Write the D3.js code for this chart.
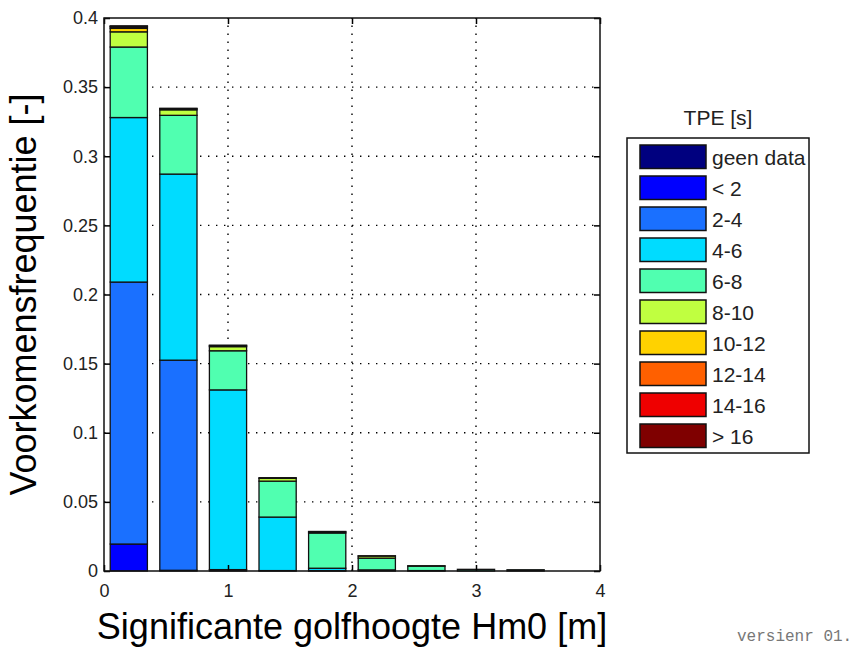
<!DOCTYPE html>
<html>
<head>
<meta charset="utf-8">
<script src="https://cdn.jsdelivr.net/npm/d3@7"></script>
<style>
body { margin: 0; background: #fff; }
svg text { font-family: "Liberation Sans", Arial, sans-serif; }
</style>
</head>
<body>
<script>
// bin centres (Hm0, m)
var hm0 = [0.2, 0.6, 1.0, 1.4, 1.8, 2.2, 2.6, 3.0, 3.4];

// TPE classes
var classes = ["geen data", "< 2", "2-4", "4-6", "6-8", "8-10", "10-12", "12-14", "14-16", "> 16"];

// frequency per class, per Hm0 bin
var geenData = [0, 0, 0, 0, 0, 0, 0, 0, 0];
var tpeLt2   = [0.0195, 0.0005, 0, 0, 0, 0, 0, 0, 0];
var tpe2_4   = [0.1895, 0.152, 0.001, 0.0003, 0.0002, 0, 0, 0, 0];
var tpe4_6   = [0.119, 0.1346, 0.130, 0.0387, 0.0018, 0.0008, 0.0003, 0, 0];
var tpe6_8   = [0.051, 0.0425, 0.0283, 0.026, 0.0255, 0.0085, 0.0032, 0.0012, 0.0009];
var tpe8_10  = [0.011, 0.004, 0.003, 0.002, 0.0008, 0.0015, 0.0003, 0, 0];
var tpe10_12 = [0.0025, 0.0008, 0.0008, 0.0005, 0.0003, 0.0002, 0, 0, 0];
var tpe12_14 = [0.001, 0.0003, 0.0002, 0, 0, 0, 0, 0, 0];
var tpe14_16 = [0.0005, 0, 0, 0, 0, 0, 0, 0, 0];
var tpeGt16  = [0.0003, 0, 0, 0, 0, 0, 0, 0, 0];

var xTicks = [0, 1, 2, 3, 4];
var yTicks = [0, 0.05, 0.1, 0.15, 0.2, 0.25, 0.3, 0.35, 0.4];

var series = [geenData, tpeLt2, tpe2_4, tpe4_6, tpe6_8, tpe8_10, tpe10_12, tpe12_14, tpe14_16, tpeGt16];
var palette = ["#00007f", "#0000ff", "#1a70ff", "#00dcff", "#50ffb0", "#c0ff40", "#ffd200", "#ff6000", "#ef0000", "#7f0000"];

var svgW = 856, svgH = 648;
var plotL = 104, plotR = 600, plotT = 18, plotB = 571;
var barW = 0.3;

var table = hm0.map(function(h, i) {
    var row = { hm0: h };
    classes.forEach(function(c, j) { row[c] = series[j][i]; });
    return row;
});

var svg = d3.select("body").append("svg")
    .attr("width", svgW)
    .attr("height", svgH);

var xScale = d3.scaleLinear().domain([0, 4]).range([plotL, plotR]);
var yScale = d3.scaleLinear().domain([0, 0.4]).range([plotB, plotT]);
var color = d3.scaleOrdinal().domain(classes).range(palette);

// grid
var grid = svg.append("g")
    .attr("stroke", "#000")
    .attr("stroke-width", 1.4)
    .attr("stroke-dasharray", "1.4,6.6");
grid.selectAll("line.gx").data(xTicks.slice(1, -1)).enter().append("line")
    .attr("x1", function(d) { return xScale(d); })
    .attr("x2", function(d) { return xScale(d); })
    .attr("y1", plotB).attr("y2", plotT);
grid.selectAll("line.gy").data(yTicks.slice(1, -1)).enter().append("line")
    .attr("y1", function(d) { return yScale(d); })
    .attr("y2", function(d) { return yScale(d); })
    .attr("x1", plotL).attr("x2", plotR);

// stacked bars
var stacked = d3.stack().keys(classes)(table);
svg.append("g").selectAll("g")
    .data(stacked)
    .enter().append("g")
    .attr("fill", function(d) { return color(d.key); })
    .selectAll("rect")
    .data(function(d) { return d.filter(function(s) { return s[1] - s[0] > 0; }); })
    .enter().append("rect")
    .attr("x", function(d) { return xScale(d.data.hm0 - barW / 2); })
    .attr("width", xScale(barW) - xScale(0))
    .attr("y", function(d) { return yScale(d[1]); })
    .attr("height", function(d) { return yScale(d[0]) - yScale(d[1]); })
    .attr("stroke", "#111")
    .attr("stroke-width", 1.3);

// axes (ticks inside, on all four sides)
var fmt = function(d) { return String(+d.toFixed(2)); };

svg.append("g")
    .attr("transform", "translate(0," + plotB + ")")
    .call(d3.axisBottom(xScale).tickValues(xTicks).tickFormat(fmt).tickSizeInner(-6).tickSizeOuter(0).tickPadding(13));
svg.append("g")
    .attr("transform", "translate(" + plotL + ",0)")
    .call(d3.axisLeft(yScale).tickValues(yTicks).tickFormat(fmt).tickSizeInner(-6).tickSizeOuter(0).tickPadding(6));
svg.append("g")
    .attr("transform", "translate(0," + plotT + ")")
    .call(d3.axisTop(xScale).tickValues(xTicks).tickFormat("").tickSizeInner(-6).tickSizeOuter(0));
svg.append("g")
    .attr("transform", "translate(" + plotR + ",0)")
    .call(d3.axisRight(yScale).tickValues(yTicks).tickFormat("").tickSizeInner(-6).tickSizeOuter(0));

svg.selectAll(".domain").remove();
svg.selectAll(".tick line").attr("stroke", "#000").attr("stroke-width", 1.5);
svg.selectAll(".tick text")
    .attr("fill", "#222")
    .attr("font-size", 18)
    .style("font-size", "18px")
    .style("font-family", "'Liberation Sans', Arial, sans-serif");

// frame
svg.append("rect")
    .attr("x", plotL).attr("y", plotT)
    .attr("width", plotR - plotL).attr("height", plotB - plotT)
    .attr("fill", "none")
    .attr("stroke", "#111")
    .attr("stroke-width", 1.5);

// axis titles
svg.append("text")
    .attr("x", (plotL + plotR) / 2)
    .attr("y", 639)
    .attr("text-anchor", "middle")
    .attr("fill", "#000")
    .style("font-size", "36px")
    .text("Significante golfhoogte Hm0 [m]");

svg.append("text")
    .attr("transform", "translate(36," + ((plotT + plotB) / 2) + ") rotate(-90)")
    .attr("text-anchor", "middle")
    .attr("fill", "#000")
    .style("font-size", "36px")
    .text("Voorkomensfrequentie [-]");

// legend
var legX = 627, legY = 138, legW = 182, legH = 315;
svg.append("text")
    .attr("x", legX + legW / 2)
    .attr("y", 125)
    .attr("text-anchor", "middle")
    .attr("fill", "#222")
    .style("font-size", "21px")
    .text("TPE [s]");

svg.append("rect")
    .attr("x", legX).attr("y", legY)
    .attr("width", legW).attr("height", legH)
    .attr("fill", "#fff")
    .attr("stroke", "#111")
    .attr("stroke-width", 1.5);

var legItem = svg.append("g").selectAll("g")
    .data(classes)
    .enter().append("g")
    .attr("transform", function(d, i) { return "translate(" + (legX + 13) + "," + (legY + 7 + i * 31) + ")"; });
legItem.append("rect")
    .attr("width", 66).attr("height", 23.5)
    .attr("fill", function(d) { return color(d); })
    .attr("stroke", "#111")
    .attr("stroke-width", 1.5);
legItem.append("text")
    .attr("x", 72)
    .attr("y", 19.5)
    .attr("fill", "#222")
    .style("font-size", "21px")
    .text(function(d) { return d; });

// version note
svg.append("text")
    .attr("x", 737)
    .attr("y", 641)
    .attr("fill", "#777")
    .style("font-family", "'Liberation Mono', 'DejaVu Sans Mono', monospace")
    .style("font-size", "16px")
    .text("versienr 01.");
</script>
</body>
</html>
